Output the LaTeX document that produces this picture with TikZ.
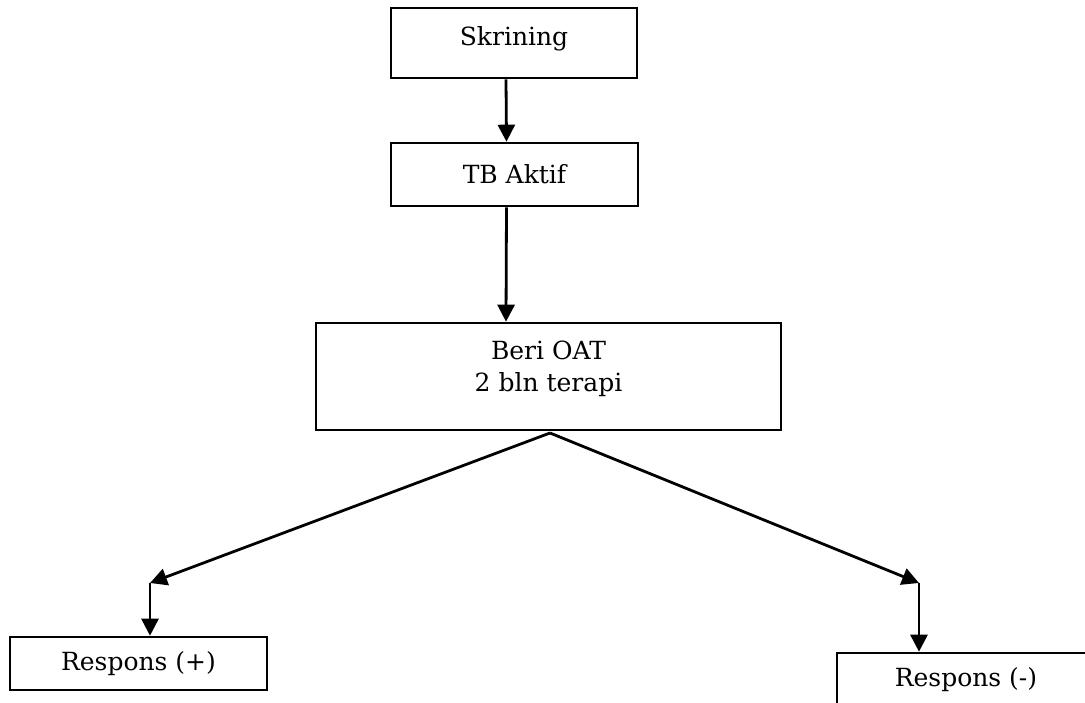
\documentclass[tikz,border=0pt]{standalone}
\usepackage{fontspec}
\setmainfont{DejaVu Serif}
\usetikzlibrary{arrows.meta}
\begin{document}
\begin{tikzpicture}[x=1pt,y=-1pt,
  box/.style={draw=black,line width=2.6pt,inner sep=0pt,font=\fontsize{25}{32}\selectfont,align=center},
  arr/.style={line width=2.8pt,-{Triangle[length=17pt,width=17pt]}}]
\useasboundingbox (0,0) rectangle (1085,703);
\clip (0,0) rectangle (1085,703);
\node[box,minimum width=246pt,minimum height=70pt,text height=18pt,text depth=12pt] (sk) at (514,43) {Skrining};
\node[box,minimum width=247pt,minimum height=63pt] (tb) at (514.5,174.5) {TB Aktif};
\node[box,minimum width=465pt,minimum height=107pt] (beri) at (548.5,376.5) {Beri OAT\\2 bln terapi\\[-12pt]};
\node[box,minimum width=257pt,minimum height=53pt] (rp) at (138.5,663.5) {Respons (+)};
\node[box,minimum width=258pt,minimum height=53pt] (rm) at (966,679.5) {Respons (-)};
\coordinate (split) at (550,433);
\coordinate (lc) at (150,583);
\coordinate (rc) at (919,583);
\draw[arr] ([xshift=-8pt]sk.south) -- ([xshift=-8pt]tb.north);
\draw[arr] ([xshift=-8pt]tb.south) -- ([xshift=-42.5pt]beri.north);
\draw[arr] (split) -- (lc);
\draw[arr] (split) -- (rc);
\draw[arr] (lc) -- (lc |- rp.north);
\draw[arr] (rc) -- (rc |- rm.north);
\end{tikzpicture}
\end{document}
